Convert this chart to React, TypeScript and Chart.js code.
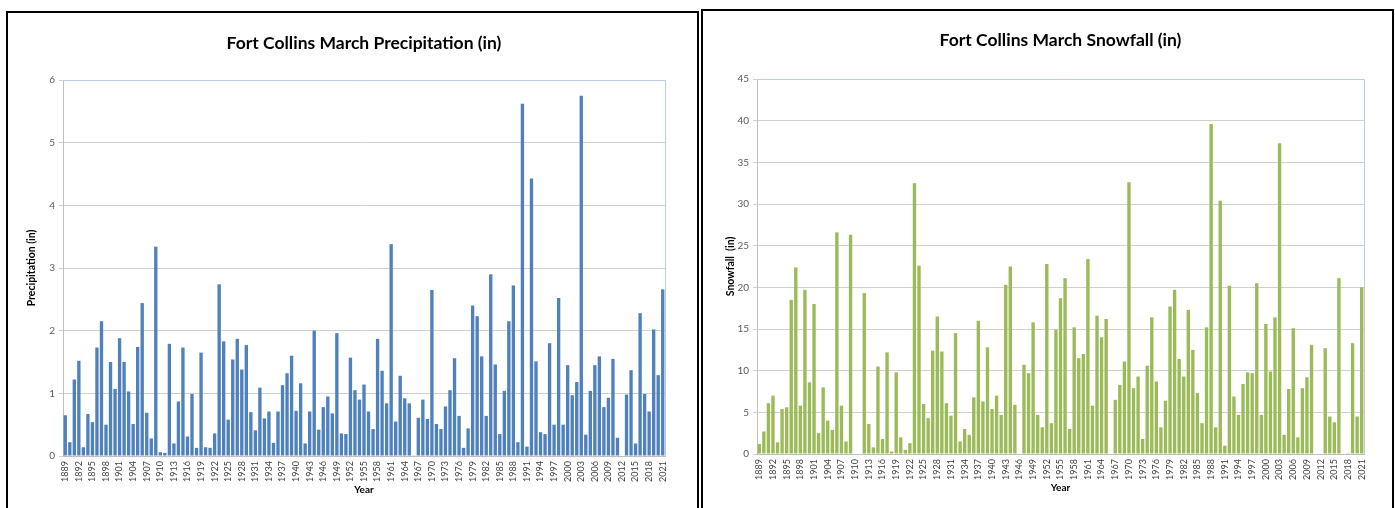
import React, { useEffect, useRef } from "react";
import { Chart, registerables } from "chart.js";

Chart.register(...registerables);

const firstYear = 1889;
const lastYear = 2021;
const years: string[] = Array.from({ length: lastYear - firstYear + 1 }, (_, i) => String(firstYear + i));

const precipitation: (number | null)[] = [
  0.65, 0.22, 1.22, 1.52, 0.14, 0.67, 0.54, 1.73, 2.15, 0.5,
  1.5, 1.07, 1.88, 1.5, 1.03, 0.51, 1.74, 2.44, 0.69, 0.28,
  3.34, 0.06, 0.05, 1.79, 0.2, 0.87, 1.73, 0.31, 0.99, 0.13,
  1.65, 0.14, 0.13, 0.36, 2.74, 1.83, 0.58, 1.54, 1.87, 1.38,
  1.77, 0.7, 0.41, 1.09, 0.6, 0.71, 0.21, 0.71, 1.13, 1.32,
  1.6, 0.72, 1.16, 0.2, 0.71, 2.0, 0.42, 0.78, 0.95, 0.68,
  1.96, 0.36, 0.35, 1.57, 1.05, 0.9, 1.14, 0.71, 0.43, 1.87,
  1.36, 0.84, 3.38, 0.55, 1.28, 0.92, 0.84, 0.01, 0.61, 0.9,
  0.59, 2.65, 0.51, 0.43, 0.79, 1.05, 1.56, 0.64, 0.13, 0.44,
  2.4, 2.23, 1.59, 0.64, 2.9, 1.46, 0.35, 1.04, 2.15, 2.72,
  0.22, 5.62, 0.15, 4.43, 1.51, 0.38, 0.35, 1.8, 0.5, 2.52,
  0.5, 1.45, 0.97, 1.18, 5.75, 0.34, 1.04, 1.45, 1.59, 0.78,
  0.93, 1.55, 0.29, null, 0.98, 1.37, 0.2, 2.28, 0.99, 0.71,
  2.02, 1.29, 2.66,
];

const snowfall: (number | null)[] = [
  1.2, 2.7, 6.1, 7.0, 1.4, 5.4, 5.6, 18.5, 22.4, 5.8,
  19.7, 8.6, 18.0, 2.5, 8.0, 4.0, 2.9, 26.6, 5.8, 1.5,
  26.3, null, null, 19.3, 3.6, 0.8, 10.5, 1.8, 12.2, 0.3,
  9.8, 2.0, 0.5, 1.3, 32.5, 22.6, 6.0, 4.3, 12.4, 16.5,
  12.3, 6.1, 4.6, 14.5, 1.5, 3.0, 2.3, 6.8, 16.0, 6.3,
  12.8, 5.4, 7.0, 4.7, 20.3, 22.5, 5.9, null, 10.7, 9.7,
  15.8, 4.7, 3.2, 22.8, 3.7, 14.9, 18.7, 21.1, 3.0, 15.2,
  11.5, 12.0, 23.4, 5.8, 16.6, 14.0, 16.2, null, 6.5, 8.3,
  11.1, 32.6, 7.9, 9.3, 1.8, 10.6, 16.4, 8.7, 3.2, 6.4,
  17.7, 19.7, 11.4, 9.3, 17.3, 12.5, 7.3, 3.7, 15.2, 39.6,
  3.2, 30.4, 1.0, 20.2, 6.9, 4.7, 8.4, 9.8, 9.7, 20.5,
  4.7, 15.6, 9.9, 16.4, 37.3, 2.3, 7.8, 15.1, 2.0, 7.9,
  9.2, 13.1, null, null, 12.7, 4.5, 3.8, 21.1, null, 0.1,
  13.3, 4.5, 20.0,
];

const FONT = "Lato, 'Open Sans', sans-serif";

type PanelProps = {
  left: number;
  top: number;
  title: string;
  yTitle: string;
  data: (number | null)[];
  color: string;
  yMax: number;
  yStep: number;
  canvasW: number;
  canvasH: number;
  yAxisW: number;
  xAxisH: number;
  rightPad: number;
  titlePadTop: number;
  titlePadBottom: number;
  yTitlePad: number;
  xTitlePad: number;
};

function Panel(p: PanelProps) {
  const ref = useRef<HTMLCanvasElement | null>(null);
  useEffect(() => {
    if (!ref.current) return;
    const framePlugin = {
      id: "frame",
      afterLayout(chart: any) {
        const tb = chart.titleBlock;
        if (tb) {
          tb.left = chart.chartArea.left;
          tb.right = chart.chartArea.right;
          tb.width = tb.right - tb.left;
        }
      },
      afterDatasetsDraw(chart: any) {
        const { ctx, chartArea } = chart;
        ctx.save();
        ctx.strokeStyle = "#b9cde5";
        ctx.lineWidth = 1;
        ctx.beginPath();
        ctx.moveTo(chartArea.left, Math.round(chartArea.top) + 0.5);
        ctx.lineTo(Math.round(chartArea.right) + 0.5, Math.round(chartArea.top) + 0.5);
        ctx.lineTo(Math.round(chartArea.right) + 0.5, chartArea.bottom);
        ctx.stroke();
        ctx.restore();
      },
    };
    const chart = new Chart(ref.current, {
      type: "bar",
      data: {
        labels: years,
        datasets: [
          {
            data: p.data,
            backgroundColor: p.color,
            borderWidth: 0,
            barPercentage: 0.74,
            categoryPercentage: 1,
          },
        ],
      },
      options: {
        animation: false,
        responsive: false,
        devicePixelRatio: 1,
        layout: { padding: { left: 0, right: p.rightPad, top: 0, bottom: 0 } },
        plugins: {
          legend: { display: false },
          tooltip: { enabled: false },
          title: {
            display: true,
            text: p.title,
            color: "#000000",
            font: { family: FONT, size: 17.5, weight: "bold" },
            padding: { top: p.titlePadTop, bottom: p.titlePadBottom },
          },
        },
        scales: {
          x: {
            grid: { display: false, drawTicks: true, tickLength: 3 },
            border: { display: true, color: "#bfbfbf" },
            afterFit(scale: any) {
              scale.height = p.xAxisH;
            },
            ticks: {
              autoSkip: false,
              minRotation: 90,
              maxRotation: 90,
              padding: 2,
              color: "#404040",
              font: { family: FONT, size: 9 },
              callback: (_v: any, i: number) => (i % 3 === 0 ? years[i] : ""),
            },
            title: {
              display: true,
              text: "Year",
              color: "#000000",
              font: { family: FONT, size: 10, weight: "bold" },
              padding: { top: 0, bottom: p.xTitlePad },
            },
          },
          y: {
            min: 0,
            max: p.yMax,
            afterFit(scale: any) {
              scale.width = p.yAxisW;
            },
            grid: { color: "#d0d0d0", tickLength: 4, drawTicks: true },
            border: { display: true, color: "#bfbfbf" },
            ticks: {
              stepSize: p.yStep,
              padding: 4,
              color: "#595959",
              font: { family: FONT, size: 10 },
            },
            title: {
              display: true,
              text: p.yTitle,
              color: "#000000",
              font: { family: FONT, size: 10.5, weight: "bold" },
              padding: { top: p.yTitlePad, bottom: 0 },
            },
          },
        },
      },
      plugins: [framePlugin],
    } as any);
    return () => chart.destroy();
  }, []);
  return (
    <div
      style={{
        position: "absolute",
        left: p.left,
        top: p.top,
        width: p.canvasW,
        height: p.canvasH,
        borderLeft: "2px solid #000",
        borderRight: "2px solid #000",
        borderTop: "2px solid #000",
        background: "#fff",
      }}
    >
      <canvas ref={ref} width={p.canvasW} height={p.canvasH} style={{ display: "block" }} />
    </div>
  );
}

export default function App() {
  useEffect(() => {
    document.body.style.margin = "0";
    document.body.style.overflow = "hidden";
  }, []);
  return (
    <div style={{ position: "relative", width: 1395, height: 508, background: "#fff" }}>
      <Panel
        left={6}
        top={11}
        title="Fort Collins March Precipitation (in)"
        yTitle="Precipitation (in)"
        data={precipitation}
        color="#4f81bd"
        yMax={6}
        yStep={1}
        canvasW={689}
        canvasH={495}
        yAxisW={55}
        xAxisH={52}
        rightPad={32}
        titlePadTop={20}
        titlePadBottom={26}
        yTitlePad={17}
        xTitlePad={12}
      />
      <Panel
        left={701}
        top={9}
        title="Fort Collins March Snowfall (in)"
        yTitle="Snowfall  (in)"
        data={snowfall}
        color="#9bbb59"
        yMax={45}
        yStep={5}
        canvasW={689}
        canvasH={497}
        yAxisW={54}
        xAxisH={54}
        rightPad={28}
        titlePadTop={19}
        titlePadBottom={28}
        yTitlePad={21}
        xTitlePad={14}
      />
    </div>
  );
}
